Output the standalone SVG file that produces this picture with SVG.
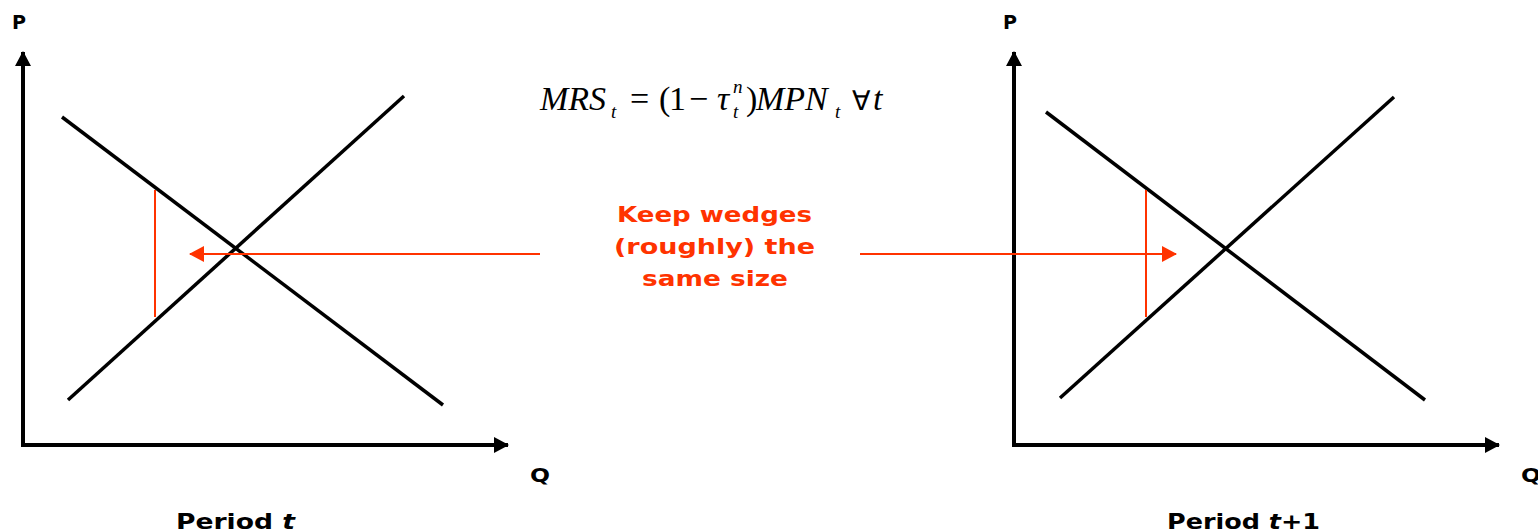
<svg xmlns="http://www.w3.org/2000/svg" width="1538" height="532" viewBox="0 0 1538 532">
<style>
.ax{stroke:#000;stroke-width:4;fill:none}
.cv{stroke:#000;stroke-width:3.5;fill:none}
.rd{stroke:#FF3300;stroke-width:2;fill:none}
.lbl{font-family:"DejaVu Sans",Verdana,sans-serif;font-weight:bold;fill:#000}
.red{font-family:"DejaVu Sans",Verdana,sans-serif;font-weight:bold;fill:#FF3300;font-size:22px}
.m{font-family:"Liberation Serif","Times New Roman",serif;font-size:34px;fill:#000}
.s{font-size:19px}
.i{font-style:italic}
</style>
<defs>
<marker id="ka" markerWidth="16" markerHeight="16" refX="14" refY="8" orient="auto" markerUnits="userSpaceOnUse"><path d="M0,0 L15,8 L0,16 z" fill="#000"/></marker>
<marker id="ra" markerWidth="16" markerHeight="16" refX="14" refY="8" orient="auto" markerUnits="userSpaceOnUse"><path d="M0,0 L15,8 L0,16 z" fill="#FF3300"/></marker>
</defs>
<g id="left-panel">
<path class="ax" d="M23,447 L23,52" marker-end="url(#ka)"/>
<path class="ax" d="M21,445 L508,445" marker-end="url(#ka)"/>
<line class="cv" x1="62" y1="117" x2="443" y2="405"/>
<line class="cv" x1="68" y1="400" x2="404" y2="96"/>
<line class="rd" x1="155" y1="190" x2="155" y2="317"/>
<text class="lbl" x="12" y="29" font-size="20" textLength="14" lengthAdjust="spacingAndGlyphs">P</text>
<text class="lbl" x="530" y="482" font-size="20" textLength="20" lengthAdjust="spacingAndGlyphs">Q</text>
<text class="lbl" x="176" y="529" font-size="22" textLength="119" lengthAdjust="spacingAndGlyphs">Period <tspan font-style="italic">t</tspan></text>
</g>
<g id="right-panel">
<path class="ax" d="M1014,447 L1014,52" marker-end="url(#ka)"/>
<path class="ax" d="M1012,445 L1499,445" marker-end="url(#ka)"/>
<line class="cv" x1="1046" y1="112" x2="1425" y2="400"/>
<line class="cv" x1="1060" y1="398" x2="1394" y2="97"/>
<line class="rd" x1="1146" y1="190" x2="1146" y2="317"/>
<text class="lbl" x="1003" y="29" font-size="20" textLength="14" lengthAdjust="spacingAndGlyphs">P</text>
<text class="lbl" x="1521" y="482" font-size="20" textLength="20" lengthAdjust="spacingAndGlyphs">Q</text>
<text class="lbl" x="1167" y="529" font-size="22" textLength="153" lengthAdjust="spacingAndGlyphs">Period <tspan font-style="italic">t</tspan>+1</text>
</g>
<g id="formula">
<text class="m" y="110"><tspan class="i" x="540">MRS</tspan><tspan class="i s" x="611" y="118">t</tspan><tspan x="630" y="110">=</tspan><tspan x="659">(</tspan><tspan x="669">1</tspan><tspan x="689">−</tspan><tspan class="i" x="717">τ</tspan><tspan class="i s" x="733" y="93">n</tspan><tspan class="i s" x="733" y="118">t</tspan><tspan x="746" y="110">)</tspan><tspan class="i" x="756">MPN</tspan><tspan class="i s" x="835" y="118">t</tspan><tspan x="852" y="110" font-size="27">∀</tspan><tspan class="i" x="873">t</tspan></text>
</g>
<g id="note">
<text class="red"><tspan x="617" y="222" textLength="195" lengthAdjust="spacingAndGlyphs">Keep wedges</tspan><tspan x="614" y="254" textLength="201" lengthAdjust="spacingAndGlyphs">(roughly) the</tspan><tspan x="642" y="286" textLength="146" lengthAdjust="spacingAndGlyphs">same size</tspan></text>
</g>
<g id="connectors">
<path class="rd" d="M540,254 L190,254" marker-end="url(#ra)"/>
<path class="rd" d="M860,254 L1176,254" marker-end="url(#ra)"/>
</g>
</svg>
